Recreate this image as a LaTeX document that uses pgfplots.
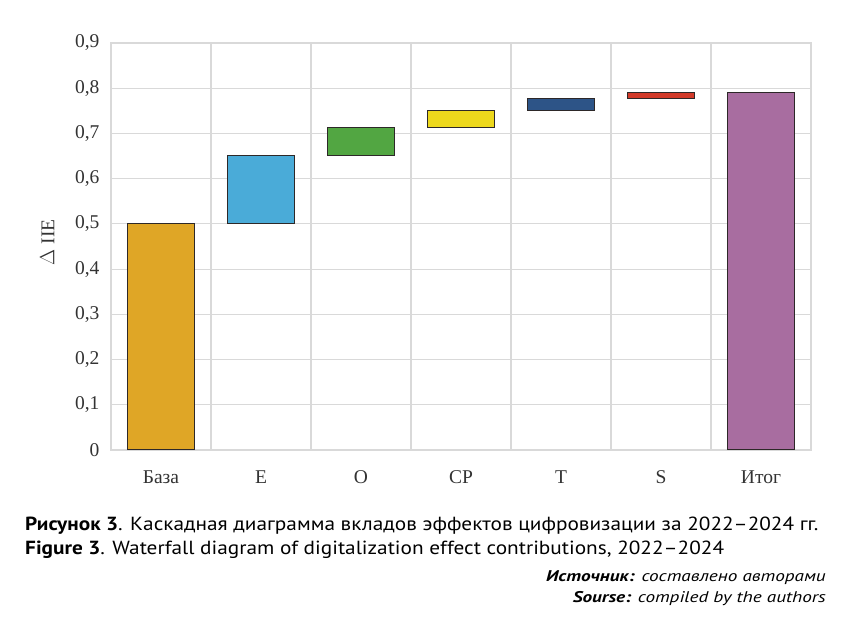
\documentclass[border=0pt]{standalone}
\usepackage{fontspec}
\setmainfont{Liberation Serif}
\newfontfamily\capfont[FakeStretch=1.12]{PT Sans}
\newfontfamily\srcfont[FakeStretch=1.24]{PT Sans}
\usepackage{pgfplots}
\pgfplotsset{compat=1.18}

\definecolor{gridc}{RGB}{217,217,217}
\definecolor{edgec}{RGB}{45,40,40}
\definecolor{cBase}{RGB}{223,166,38}
\definecolor{cE}{RGB}{74,171,216}
\definecolor{cO}{RGB}{82,166,66}
\definecolor{cCP}{RGB}{237,216,28}
\definecolor{cT}{RGB}{45,84,135}
\definecolor{cS}{RGB}{210,58,42}
\definecolor{cTot}{RGB}{168,109,160}

\begin{document}
\begin{tikzpicture}
\path[use as bounding box] (0,0) rectangle (847pt,634pt);
\begin{axis}[
  at={(111pt,184pt)}, anchor=south west,
  scale only axis, width=700pt, height=407pt,
  xmin=-0.5, xmax=6.5, ymin=0, ymax=0.9,
  xtick={0,1,2,3,4,5,6},
  xticklabels={База,E,O,CP,T,S,Итог},
  minor xtick={-0.5,0.5,1.5,2.5,3.5,4.5,5.5,6.5},
  ytick={0,0.1,0.2,0.3,0.4,0.5,0.6,0.7,0.8,0.9},
  xminorgrids, ymajorgrids,
  major grid style={draw=gridc, line width=1.2pt},
  minor grid style={draw=gridc, line width=1.2pt},
  axis line style={draw=gridc, line width=1.2pt},
  major tick length=0pt, minor tick length=0pt,
  tick label style={font=\fontsize{19.5}{22}\selectfont, text=black!80},
  /pgf/number format/assume math mode=true,
  yticklabel style={/pgf/number format/.cd, use comma, fixed, precision=1, /tikz/.cd, xshift=-8pt},
  xticklabel style={yshift=-17pt},
  ylabel={$\Delta$ IIE},
  every axis y label/.style={at={(axis description cs:-0.091,0.51)}, rotate=90, anchor=center,
    font=\fontsize{19.5}{22}\selectfont, text=black!80},
  bar edge/.style={draw=edgec, line width=1.2pt},
]
% waterfall: each bar spans [lower, upper] around its category position
\addplot[bar edge, fill=cBase] coordinates {(-0.335,0) (0.335,0) (0.335,0.500) (-0.335,0.500)} -- cycle;
\addplot[bar edge, fill=cE]    coordinates {(0.665,0.500) (1.335,0.500) (1.335,0.652) (0.665,0.652)} -- cycle;
\addplot[bar edge, fill=cO]    coordinates {(1.665,0.652) (2.335,0.652) (2.335,0.713) (1.665,0.713)} -- cycle;
\addplot[bar edge, fill=cCP]   coordinates {(2.665,0.713) (3.335,0.713) (3.335,0.750) (2.665,0.750)} -- cycle;
\addplot[bar edge, fill=cT]    coordinates {(3.665,0.750) (4.335,0.750) (4.335,0.778) (3.665,0.778)} -- cycle;
\addplot[bar edge, fill=cS]    coordinates {(4.665,0.778) (5.335,0.778) (5.335,0.790) (4.665,0.790)} -- cycle;
\addplot[bar edge, fill=cTot]  coordinates {(5.665,0) (6.335,0) (6.335,0.790) (5.665,0.790)} -- cycle;
\end{axis}

% caption block
\node[anchor=base west, inner sep=0pt, font=\capfont\fontsize{19}{22}\selectfont]
  at (25pt,103pt) {\textbf{Рисунок 3}. Каскадная диаграмма вкладов эффектов цифровизации за 2022–2024 гг.};
\node[anchor=base west, inner sep=0pt, font=\capfont\fontsize{19}{22}\selectfont]
  at (25pt,79pt) {\textbf{Figure 3}. Waterfall diagram of digitalization effect contributions, 2022–2024};
\node[anchor=base east, inner sep=0pt, font=\srcfont\itshape\fontsize{15.5}{18}\selectfont]
  at (826pt,52pt) {\textbf{Источник:} составлено авторами};
\node[anchor=base east, inner sep=0pt, font=\srcfont\itshape\fontsize{15.5}{18}\selectfont]
  at (826pt,31pt) {\textbf{Sourse:} compiled by the authors};
\end{tikzpicture}
\end{document}
